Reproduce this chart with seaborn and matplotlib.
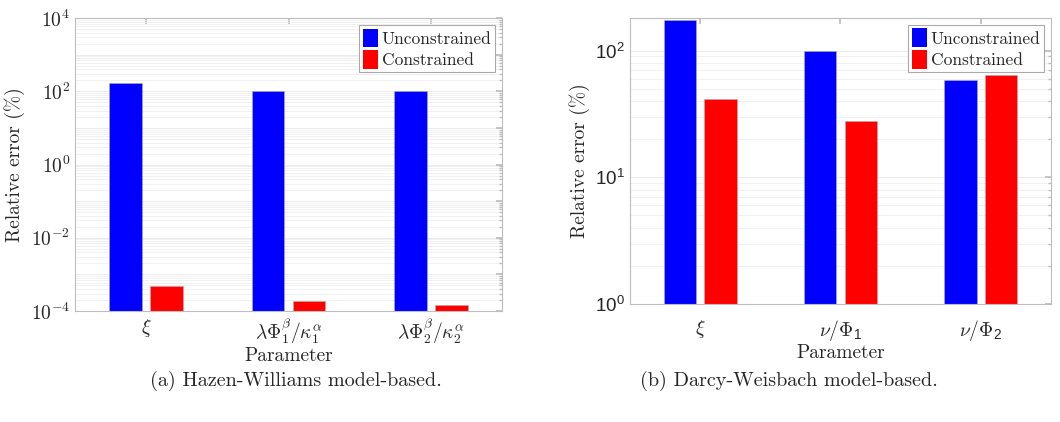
import math
import matplotlib
matplotlib.use("Agg")
import matplotlib.pyplot as plt
import matplotlib.ticker as mticker
from matplotlib.patches import Patch
import seaborn as sns
import pandas as pd

# ---- data ----
methods = ["Unconstrained", "Constrained"]
hw_params = [r"$\xi$", r"$\lambda\Phi_1^\beta/\kappa_1^\alpha$", r"$\lambda\Phi_2^\beta/\kappa_2^\alpha$"]
hw_unconstrained = [170.0, 100.0, 100.0]
hw_constrained = [4.9e-4, 1.9e-4, 1.45e-4]

dw_params = [r"$\xi$", r"$\nu/\Phi_{\mathdefault{1}}$", r"$\nu/\Phi_{\mathdefault{2}}$"]
dw_unconstrained = [175.0, 100.0, 58.8]
dw_constrained = [41.8, 27.7, 64.6]

captions = ["(a) Hazen-Williams model-based.", "(b) Darcy-Weisbach model-based."]
colors = ["#0000FF", "#FF0000"]

sns.set_theme(style="white")
plt.rcParams["font.family"] = ["cmr10"]
plt.rcParams["mathtext.fontset"] = "cm"
plt.rcParams["axes.formatter.use_mathtext"] = True

def make_df(params, unc, con):
    rows = []
    for p, u, c in zip(params, unc, con):
        rows.append({"Parameter": p, "Error": u, "Method": methods[0]})
        rows.append({"Parameter": p, "Error": c, "Method": methods[1]})
    return pd.DataFrame(rows)

fig = plt.figure(figsize=(10.6, 4.22), dpi=100)
ax1 = fig.add_axes([0.0708, 0.263, 0.4028, 0.694])
ax2 = fig.add_axes([0.5943, 0.2796, 0.3972, 0.6777])

spine_c = "#BDBDBD"
grid_c = "#EBEBEB"

def style(ax, df, params, ylim, xpad, lpad):
    sns.barplot(data=df, x="Parameter", y="Error", hue="Method", order=params,
                hue_order=methods, palette=colors, saturation=1, width=0.576, gap=0.2,
                edgecolor="#B0B0B0", linewidth=0.4, ax=ax, legend=False, errorbar=None)
    ax.set_yscale("log")
    ax.set_ylim(*ylim)
    ax.set_xlim(-0.5, 2.5)
    ax.set_axisbelow(True)
    ax.yaxis.grid(True, which="major", color=grid_c, linewidth=0.7)
    ax.yaxis.grid(True, which="minor", color=grid_c, linewidth=0.5)
    for s in ax.spines.values():
        s.set_color(spine_c)
        s.set_linewidth(0.8)
    ax.tick_params(axis="both", which="both", direction="in", top=True, right=True,
                   color=spine_c, labelcolor="#262626")
    ax.tick_params(axis="y", which="major", length=4, labelsize=13.5)
    ax.tick_params(axis="y", which="minor", length=2)
    ax.tick_params(axis="x", which="major", length=4, labelsize=14, pad=xpad)
    ax.set_ylabel("Relative error (%)", fontsize=14, color="#262626")
    ax.set_xlabel("Parameter", fontsize=14, color="#262626", labelpad=lpad)
    handles = [Patch(facecolor=c, edgecolor="none") for c in colors]
    leg = ax.legend(handles, methods, loc="upper right", fontsize=12.5,
                    frameon=True, fancybox=False, framealpha=1, edgecolor="#AAAAAA",
                    handlelength=0.9, handleheight=1.3, handletextpad=0.2,
                    borderpad=0.2, labelspacing=0.15, borderaxespad=0.4)
    leg.get_frame().set_linewidth(0.8)

df1 = make_df(hw_params, hw_unconstrained, hw_constrained)
style(ax1, df1, hw_params, (1e-4, 1e4), 4, 0.5)
ax1.yaxis.set_major_locator(mticker.LogLocator(base=10, numticks=20))
ax1.yaxis.set_major_formatter(mticker.FuncFormatter(
    lambda v, p: (r"$10^{%d}$" % round(math.log10(v))) if round(math.log10(v)) % 2 == 0 else ""))
ax1.yaxis.set_minor_locator(mticker.LogLocator(base=10, subs=range(2, 10), numticks=50))
ax1.yaxis.set_minor_formatter(mticker.NullFormatter())
ax1.tick_params(axis="y", which="major", labelsize=14)

df2 = make_df(dw_params, dw_unconstrained, dw_constrained)
style(ax2, df2, dw_params, (1, 181), 10, 1)
ax2.yaxis.set_minor_locator(mticker.LogLocator(base=10, subs=range(2, 10), numticks=50))
ax2.yaxis.set_minor_formatter(mticker.NullFormatter())
ax2.yaxis.set_major_formatter(mticker.FuncFormatter(
    lambda v, p: r"$\mathdefault{10^{%d}}$" % round(math.log10(v))))
fig.canvas.draw()
for lab in ax2.get_yticklabels():
    lab.set_fontfamily("Liberation Sans")
for lab in ax2.get_xticklabels():
    lab.set_fontfamily("Liberation Sans")

fig.text(0.279, 0.098, captions[0], ha="center", va="center", fontsize=14.5, color="#262626")
fig.text(0.744, 0.098, captions[1], ha="center", va="center", fontsize=14.5, color="#262626")

fig.savefig("out.png", dpi=100)
